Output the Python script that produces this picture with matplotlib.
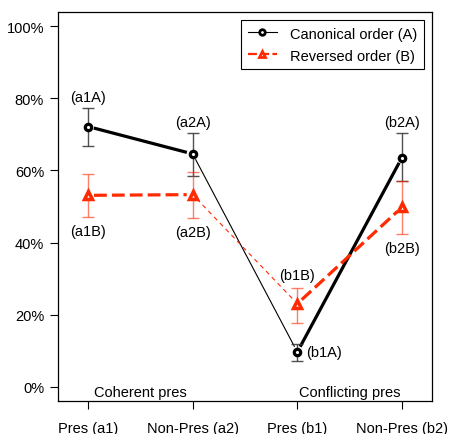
import matplotlib
matplotlib.use("Agg")
import matplotlib.pyplot as plt
from matplotlib.lines import Line2D
import numpy as np

# data (percent)
conds = ["Pres (a1)", "Non-Pres (a2)", "Pres (b1)", "Non-Pres (b2)"]
canon = [72.2, 64.6, 9.6, 63.6]
canon_lo = [66.8, 58.5, 7.1, 57.2]
canon_hi = [77.4, 70.3, 11.9, 70.3]
rev = [53.1, 53.3, 23.0, 49.8]
rev_lo = [47.1, 46.7, 17.6, 42.4]
rev_hi = [58.9, 59.7, 27.4, 57.0]
labels_a = ["(a1A)", "(a2A)", "(b1A)", "(b2A)"]
labels_b = ["(a1B)", "(a2B)", "(b1B)", "(b2B)"]
groups = ["Coherent pres", "Conflicting pres"]

RED = "#ff2a00"
plt.rcParams["font.family"] = ["Liberation Sans", "DejaVu Sans"]
plt.rcParams["font.size"] = 10.5

fig = plt.figure(figsize=(4.49, 4.35), dpi=100)
ax = fig.add_axes([58 / 449, 1 - 402 / 435, 374 / 449, 389 / 435])
x = np.arange(1, 5)
ax.set_xlim(0.713, 4.287)
ax.set_ylim(-4, 104)


def seg(x0, y0, x1, y1, gap=6, **kw):
    # segment between two points, shortened near the markers (R type="b")
    p0 = ax.transData.transform((x0, y0))
    p1 = ax.transData.transform((x1, y1))
    d = p1 - p0
    u = d / np.hypot(*d)
    q0 = ax.transData.inverted().transform(p0 + u * gap)
    q1 = ax.transData.inverted().transform(p1 - u * gap)
    ax.plot([q0[0], q1[0]], [q0[1], q1[1]], solid_capstyle="butt",
            dash_capstyle="butt", **kw)


widths = [2.3, 0.8, 2.3]
for i in range(3):
    seg(x[i], canon[i], x[i + 1], canon[i + 1], color="black", lw=widths[i])
    if widths[i] > 1:
        seg(x[i], rev[i], x[i + 1], rev[i + 1], color=RED, lw=widths[i],
            dashes=(4, 1.6))
    else:
        seg(x[i], rev[i], x[i + 1], rev[i + 1], color=RED, lw=widths[i],
            dashes=(4, 3.5))

ax.errorbar(x, canon, yerr=[np.subtract(canon, canon_lo), np.subtract(canon_hi, canon)],
            fmt="none", ecolor="#333333", elinewidth=1, capsize=4, capthick=1, alpha=0.85)
ax.errorbar(x, rev, yerr=[np.subtract(rev, rev_lo), np.subtract(rev_hi, rev)],
            fmt="none", ecolor=RED, elinewidth=1, capsize=4, capthick=1, alpha=0.6)

ax.plot(x, canon, "o", ms=4.6, mfc="white", mec="black", mew=2.3, ls="none")
ax.plot(x, rev, "^", ms=6, mfc="white", mec=RED, mew=2.5, ls="none")

# point labels
for i in range(4):
    if i == 2:
        ax.annotate(labels_a[i], (x[i], canon[i]), xytext=(6, 0),
                    textcoords="offset points", ha="left", va="center")
        ax.annotate(labels_b[i], (x[i], rev_hi[i]), xytext=(0, 4),
                    textcoords="offset points", ha="center", va="bottom")
    else:
        ax.annotate(labels_a[i], (x[i], canon_hi[i]), xytext=(0, 3),
                    textcoords="offset points", ha="center", va="bottom")
        ax.annotate(labels_b[i], (x[i], rev_lo[i]), xytext=(0, -5),
                    textcoords="offset points", ha="center", va="top")

ax.text(1.5, -1.5, groups[0], ha="center", va="center")
ax.text(3.5, -1.5, groups[1], ha="center", va="center")

ax.set_xticks(x)
ax.set_xticklabels(conds)
ax.set_yticks(np.arange(0, 101, 20))
ax.set_yticklabels([f"{v}%" for v in range(0, 101, 20)])
ax.tick_params(axis="x", direction="out", length=6, width=0.8, pad=8.5)
ax.tick_params(axis="y", direction="out", length=6, width=0.8, pad=4)
for s in ax.spines.values():
    s.set_linewidth(0.9)

handles = [
    Line2D([], [], color="black", lw=0.8, marker="o", ms=4, mfc="white",
           mec="black", mew=2),
    Line2D([], [], color=RED, lw=1.6, ls=(0, (4, 1.5)), marker="^", ms=5,
           mfc="white", mec=RED, mew=2),
]
leg = ax.legend(handles, ["Canonical order (A)", "Reversed order (B)"],
                loc="upper right", bbox_to_anchor=(1 - 8 / 374, 1 - 8 / 389),
                borderaxespad=0, fancybox=False, framealpha=1,
                edgecolor="black", handlelength=2.0, labelspacing=0.55,
                handletextpad=0.9, borderpad=0.45)
leg.get_frame().set_linewidth(0.8)

fig.savefig("out.png", dpi=100)
